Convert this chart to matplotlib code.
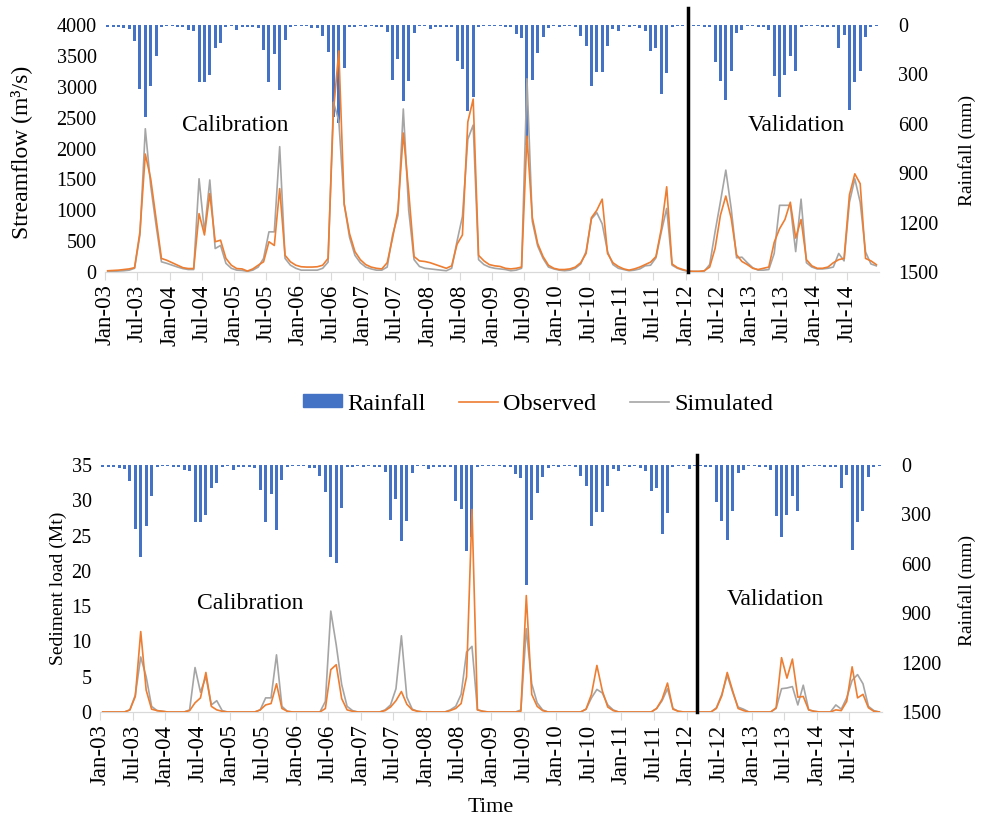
import matplotlib
matplotlib.use("Agg")
import matplotlib.pyplot as plt
import numpy as np
from matplotlib.lines import Line2D
from matplotlib.patches import Patch

plt.rcParams["font.family"] = ["Liberation Serif", "DejaVu Serif"]

# monthly series Jan-03 .. Dec-14, one line per year
rainfall = [
    10, 15, 15, 20, 25, 95, 390, 560, 370, 190, 15, 5,
    5, 10, 15, 30, 36, 345, 345, 303, 137, 110, 10, 5,
    30, 10, 10, 10, 16, 152, 345, 178, 395, 92, 10, 5,
    5, 5, 16, 16, 68, 166, 560, 594, 260, 15, 10, 5,
    10, 5, 10, 10, 45, 335, 205, 462, 340, 50, 5, 5,
    25, 10, 10, 10, 15, 218, 268, 520, 440, 15, 5, 5,
    5, 5, 10, 15, 57, 77, 730, 335, 168, 72, 20, 5,
    10, 5, 5, 10, 68, 128, 372, 286, 286, 126, 25, 36,
    5, 10, 5, 20, 36, 158, 137, 418, 289, 10, 5, 5,
    25, 5, 5, 10, 15, 225, 339, 455, 280, 48, 33, 5,
    5, 10, 10, 30, 310, 437, 306, 186, 282, 10, 5, 5,
    5, 10, 10, 15, 137, 60, 516, 345, 279, 72, 10, 5,
]

flow_obs = [
    20, 25, 30, 40, 50, 70, 650, 1910, 1510, 860, 220, 190,
    150, 110, 70, 56, 56, 945, 600, 1270, 490, 515, 220, 110,
    56, 50, 15, 50, 110, 165, 490, 430, 1350, 270, 165, 110,
    85, 80, 80, 85, 110, 220, 2600, 3580, 1100, 620, 330, 200,
    120, 80, 60, 50, 150, 550, 1000, 2250, 1300, 250, 180, 170,
    150, 120, 90, 60, 100, 450, 600, 2430, 2800, 270, 180, 120,
    100, 90, 60, 50, 60, 80, 2200, 880, 460, 250, 110, 60,
    40, 40, 50, 80, 150, 300, 880, 1000, 1180, 300, 150, 90,
    50, 30, 50, 80, 120, 160, 250, 700, 1380, 130, 70, 40,
    15, 10, 10, 20, 80, 380, 920, 1230, 870, 280, 170, 120,
    60, 40, 60, 80, 480, 700, 850, 1130, 550, 850, 200, 100,
    60, 60, 80, 150, 200, 220, 1250, 1590, 1430, 220, 180, 120,
]

flow_sim = [
    10, 10, 15, 20, 30, 60, 600, 2320, 1400, 760, 165, 140,
    110, 80, 55, 40, 40, 1510, 650, 1490, 380, 430, 140, 60,
    30, 25, 10, 30, 80, 220, 650, 650, 2030, 220, 110, 60,
    30, 30, 30, 30, 60, 160, 2750, 2450, 1100, 560, 270, 150,
    80, 50, 30, 30, 80, 600, 920, 2640, 1000, 200, 90, 60,
    50, 40, 30, 20, 60, 500, 900, 2150, 2380, 200, 120, 80,
    60, 50, 40, 20, 30, 60, 3130, 820, 420, 220, 80, 50,
    30, 20, 30, 60, 130, 330, 860, 960, 780, 330, 120, 60,
    40, 20, 30, 50, 100, 110, 230, 650, 1030, 110, 60, 30,
    10, 10, 10, 15, 120, 650, 1140, 1650, 1030, 230, 240, 150,
    70, 30, 30, 40, 300, 1080, 1080, 1080, 330, 1180, 150, 80,
    50, 50, 60, 80, 300, 180, 1130, 1510, 1130, 324, 130, 100,
]

sed_obs = [
    0, 0, 0, 0, 0, 0.3, 2.2, 11.4, 3.1, 0.4, 0.2, 0.1,
    0, 0, 0, 0, 0.2, 1.3, 2.0, 5.6, 0.8, 0.3, 0.1, 0,
    0, 0, 0, 0, 0, 0.3, 1.0, 1.2, 4.0, 0.5, 0.1, 0,
    0, 0, 0, 0, 0, 0.5, 6.0, 6.7, 1.9, 0.3, 0.1, 0,
    0, 0, 0, 0, 0.2, 0.7, 1.6, 2.9, 1.1, 0.3, 0.1, 0,
    0, 0, 0, 0, 0.2, 0.5, 1.2, 5.0, 28.7, 0.3, 0.1, 0,
    0, 0, 0, 0, 0, 0.1, 16.5, 2.5, 0.8, 0.2, 0, 0,
    0, 0, 0, 0, 0, 0.4, 2.5, 6.6, 3.0, 0.7, 0.2, 0,
    0, 0, 0, 0, 0, 0, 0.5, 1.8, 4.1, 0.4, 0.1, 0,
    0, 0, 0, 0, 0, 0.5, 2.3, 5.6, 3.0, 0.5, 0.2, 0,
    0, 0, 0, 0, 0.6, 7.7, 4.8, 7.5, 2.1, 2.2, 0.3, 0.1,
    0, 0, 0, 0.3, 0.2, 1.5, 6.4, 2.0, 2.5, 0.6, 0.1, 0,
]

sed_sim = [
    0, 0, 0, 0, 0, 0.3, 2.4, 7.8, 5.0, 0.8, 0.2, 0.1,
    0, 0, 0, 0, 0.3, 6.3, 2.8, 5.0, 1.0, 1.6, 0.2, 0,
    0, 0, 0, 0, 0, 0.3, 2.0, 2.0, 8.1, 0.8, 0.1, 0,
    0, 0, 0, 0, 0, 1.5, 14.3, 9.5, 3.9, 0.8, 0.2, 0,
    0, 0, 0, 0, 0.3, 1.0, 3.3, 10.8, 2.1, 0.4, 0.1, 0,
    0, 0, 0, 0, 0.3, 0.8, 2.5, 8.5, 9.3, 0.3, 0.1, 0,
    0, 0, 0, 0, 0, 0.3, 11.8, 4.0, 1.3, 0.3, 0, 0,
    0, 0, 0, 0, 0, 0.4, 2.0, 3.2, 2.7, 1.0, 0.3, 0,
    0, 0, 0, 0, 0, 0, 0.5, 1.6, 3.3, 0.5, 0.1, 0,
    0, 0, 0, 0, 0, 0.6, 2.5, 5.2, 2.8, 0.7, 0.4, 0,
    0, 0, 0, 0, 0.5, 3.3, 3.4, 3.6, 1.0, 3.8, 0.3, 0.1,
    0, 0, 0, 1.0, 0.4, 2.0, 4.5, 5.3, 4.0, 0.8, 0.2, 0,
]

years = [f"{y:02d}" for y in range(3, 15)]
tick_labels = [f"{m}-{y}" for y in years for m in ("Jan", "Jul")]

BLUE = "#4472C4"
ORANGE = "#ED7D31"
GRAY = "#A5A5A5"
TICK_FS = 14.5
XTICK_FS = 16.5
W, H = 983, 826

months = np.arange(len(rainfall)) + 0.5


def draw_panel(rect, obs, sim, ymax, ystep, split, split_top, texts):
    ax = fig.add_axes(rect)
    ax2 = ax.twinx()
    ax2.bar(months, rainfall, width=0.55, color=BLUE, zorder=1)
    ax2.set_ylim(1500, 0)
    ax2.set_yticks(range(0, 1501, 300))

    ax.set_zorder(ax2.get_zorder() + 1)
    ax.patch.set_visible(False)
    ax.plot(months, obs, color=ORANGE, lw=1.2, zorder=3)
    ax.plot(months, sim, color=GRAY, lw=1.2, zorder=2)
    ax.set_ylim(0, ymax)
    ax.set_yticks(np.arange(0, ymax + 1, ystep))
    ax.set_xlim(0, 144)
    ax.set_xticks(np.arange(0, 144, 6))
    ax.set_xticklabels(tick_labels, rotation=90, fontsize=XTICK_FS)
    ax.axvline(split, ymin=0, ymax=split_top, color="black", lw=2.5,
               clip_on=False, zorder=5)
    for (tx, ty, s) in texts:
        ax.text(tx, ty, s, fontsize=17, ha="center", va="center")

    for a in (ax, ax2):
        for side in ("top", "left", "right"):
            a.spines[side].set_visible(False)
        a.spines["bottom"].set_color("#D9D9D9")
        a.tick_params(axis="y", labelsize=TICK_FS)
    ax.tick_params(axis="y", length=0, pad=6)
    ax2.tick_params(axis="y", length=0, pad=14)
    ax.tick_params(axis="x", length=6, color="#D9D9D9", pad=3)
    return ax


def side_label(x_px, y_px, s, fs):
    fig.text(x_px / W, 1 - y_px / H, s, rotation=90, fontsize=fs,
             ha="center", va="center")


fig = plt.figure(figsize=(W / 100, H / 100), dpi=100)

draw_panel([105 / W, 1 - 272 / H, 774 / W, 247 / H],
           flow_obs, flow_sim, 4000, 500, 108.5, 1.069,
           [(24.2, 2380, "Calibration"), (128.7, 2380, "Validation")])

axb = draw_panel([100 / W, 1 - 712 / H, 782 / W, 247 / H],
                 sed_obs, sed_sim, 35, 5, 110, 1.04,
                 [(27.6, 15.4, "Calibration"), (124.3, 15.9, "Validation")])
axb.set_xlabel("Time", fontsize=16, labelpad=9)

side_label(21, 152, "Streamflow (m³/s)", 17)
side_label(967, 150, "Rainfall (mm)", 14)
side_label(58, 588, "Sediment load (Mt)", 14)
side_label(967, 590, "Rainfall (mm)", 14)

handles = [Patch(color=BLUE), Line2D([], [], color=ORANGE, lw=1.2),
           Line2D([], [], color=GRAY, lw=1.2)]
fig.legend(handles, ["Rainfall", "Observed", "Simulated"], loc="center",
           bbox_to_anchor=(538 / W, 1 - 404 / H), ncol=3, frameon=False,
           fontsize=17.5, handlelength=1.6, handleheight=0.45,
           columnspacing=1.4, handletextpad=0.2)

fig.savefig("out.png", dpi=100)
